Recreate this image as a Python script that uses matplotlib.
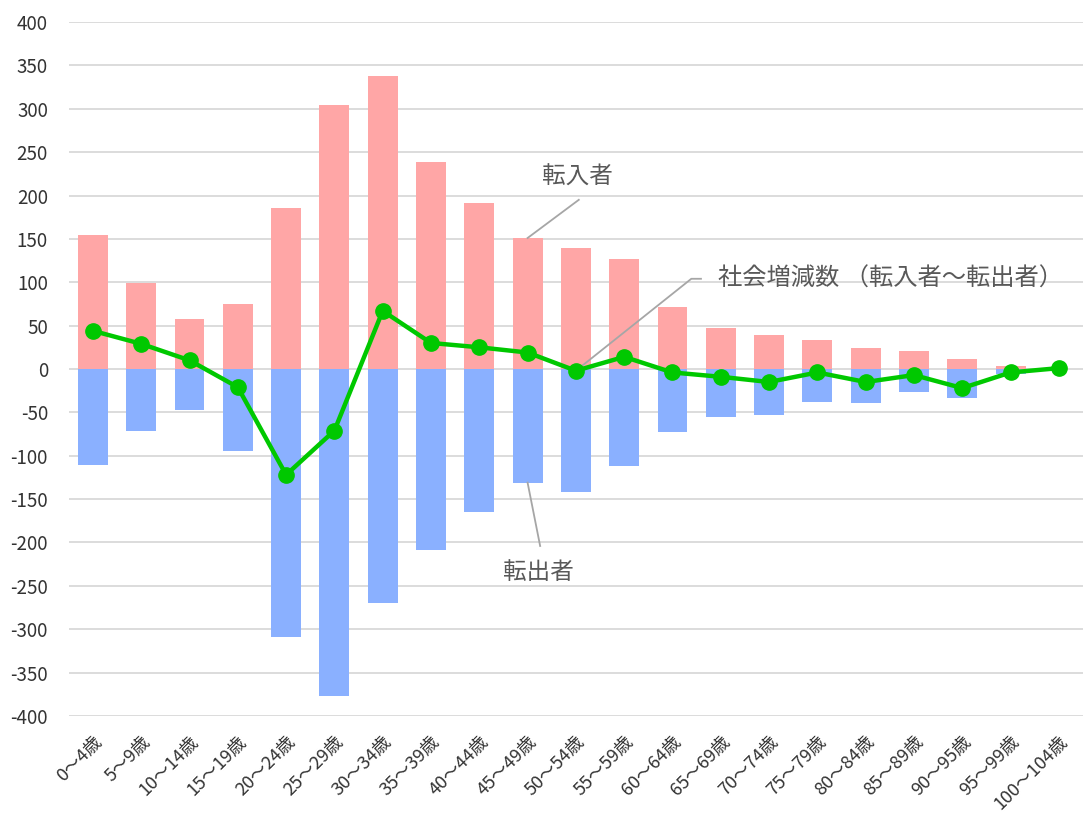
import numpy as np
import matplotlib
matplotlib.use("Agg")
import matplotlib.pyplot as plt

plt.rcParams['font.family'] = ['Noto Sans CJK JP', 'DejaVu Sans']
plt.rcParams['axes.unicode_minus'] = False

# age groups
ages = ["0～4歳", "5～9歳", "10～14歳", "15～19歳", "20～24歳", "25～29歳", "30～34歳",
        "35～39歳", "40～44歳", "45～49歳", "50～54歳", "55～59歳", "60～64歳", "65～69歳",
        "70～74歳", "75～79歳", "80～84歳", "85～89歳", "90～95歳", "95～99歳", "100～104歳"]

# 転入者 (in), 転出者 (out, negative), 社会増減数 (net)
in_vals = [154, 99, 58, 75, 186, 304, 338, 239, 191, 151, 139, 127, 71, 47, 39, 34, 24, 21, 11, 3, 0]
out_vals = [-111, -71, -47, -94, -309, -377, -270, -209, -165, -131, -142, -112, -73, -55, -53, -38, -39, -27, -34, -6, 0]
net_vals = [44, 29, 10, -21, -122, -71, 67, 30, 25, 19, -2, 14, -4, -9, -15, -4, -15, -7, -22, -4, 1]

x = np.arange(len(ages))

fig = plt.figure(figsize=(10.83, 8.18), dpi=100)
ax = fig.add_axes([0.0635, 0.1247, 0.9365, 0.8484])

ax.bar(x, in_vals, width=0.62, color="#FFA6A6", zorder=2)
ax.bar(x, out_vals, width=0.62, color="#8AB0FF", zorder=2)
ax.plot(x, net_vals, color="#00C800", lw=3.2, marker="o", ms=11, zorder=4)

ax.set_ylim(-400, 400)
ax.set_xlim(-0.5, len(ages) - 0.5)
ax.set_yticks(np.arange(-400, 401, 50))
ax.yaxis.grid(True, color="#D9D9D9", lw=1.3, zorder=0)
ax.set_axisbelow(True)
for s in ax.spines.values():
    s.set_visible(False)
ax.tick_params(length=0, colors="#333333")
ax.tick_params(axis="y", labelsize=13.5, pad=15)
ax.set_xticks(x)
ax.set_xticklabels(ages, rotation=45, ha="right", rotation_mode="anchor", fontsize=13)
ax.tick_params(axis="x", pad=12)

gray = "#595959"
# 転入者 label
i = 9
ax.plot([i, i + 1.06], [in_vals[i], in_vals[i] + 44], color="#A6A6A6", lw=1.3, zorder=3)
ax.text(i + 1.04, in_vals[i] + 70, "転入者", fontsize=17, color=gray, ha="center", va="center")
# 転出者 label
ax.plot([i, i + 0.26], [out_vals[i], out_vals[i] - 73], color="#A6A6A6", lw=1.3, zorder=3)
ax.text(i + 0.22, out_vals[i] - 104, "転出者", fontsize=17, color=gray, ha="center", va="center")
# 社会増減数 label
j = 10
ax.plot([j, j + 2.39, j + 2.59], [net_vals[j], 104, 104], color="#A6A6A6", lw=1.3, zorder=3)
ax.text(j + 2.94, 104, "社会増減数 （転入者～転出者）", fontsize=17.5, color=gray, ha="left", va="center")

fig.savefig("out.png", dpi=100)
